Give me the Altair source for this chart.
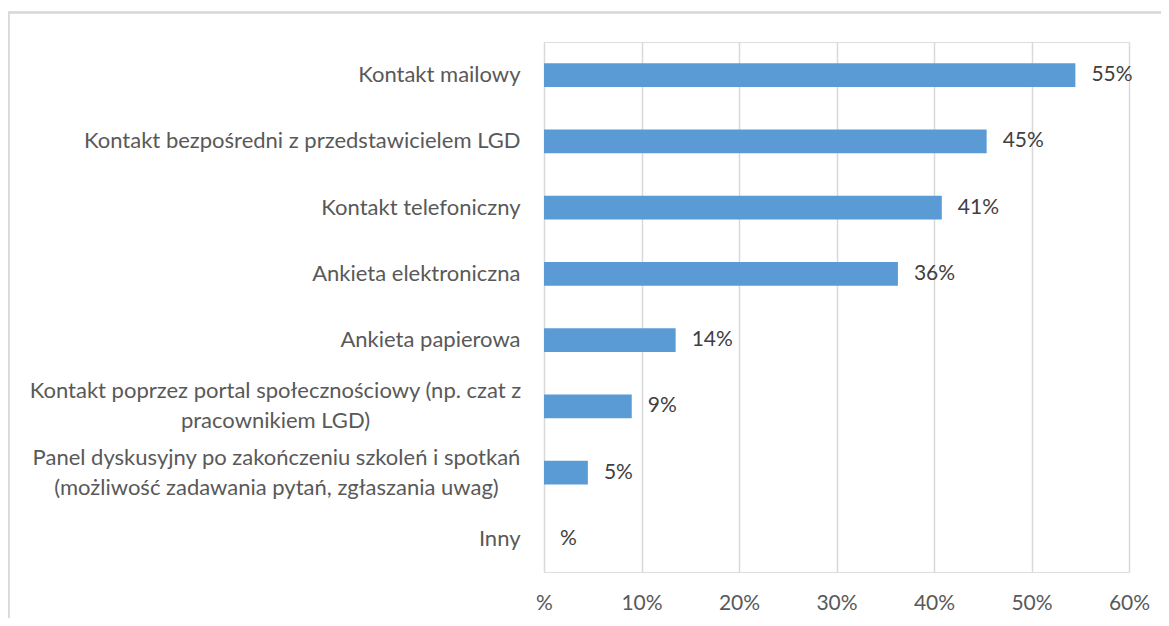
import altair as alt
import pandas as pd

categories = [
    "Kontakt mailowy",
    "Kontakt bezpośredni z przedstawicielem LGD",
    "Kontakt telefoniczny",
    "Ankieta elektroniczna",
    "Ankieta papierowa",
    "Kontakt poprzez portal społecznościowy (np. czat z|pracownikiem LGD)",
    "Panel dyskusyjny po zakończeniu szkoleń i spotkań|(możliwość zadawania pytań, zgłaszania uwag)",
    "Inny",
]
values = [54.5, 45.4, 40.8, 36.3, 13.5, 9.0, 4.5, 0.0]
value_labels = ["55%", "45%", "41%", "36%", "14%", "9%", "5%", "%"]
tick_values = [0, 10, 20, 30, 40, 50, 60]

df = pd.DataFrame({"cat": categories, "val": values, "lab": value_labels})

FONT = "Lato"
FS_CAT = 22
FS_NUM = 21
MULTI = "indexof(datum.value, '|') >= 0"

x = alt.X(
    "val:Q",
    scale=alt.Scale(domain=[0, 60], nice=False, zero=True),
    axis=alt.Axis(
        values=tick_values,
        labelExpr="datum.value == 0 ? '%' : format(datum.value, 'd') + '%'",
        title=None,
        domain=False,
        ticks=False,
        grid=True,
        gridColor="#d9d9d9",
        gridWidth=1.5,
        labelFont=FONT,
        labelFontSize=FS_NUM,
        labelColor="#595959",
        labelPadding=20,
        labelFlush=False,
        labelOverlap=False,
    ),
)
y = alt.Y(
    "cat:N",
    sort=categories,
    scale=alt.Scale(paddingInner=0.645, paddingOuter=0.3225),
    axis=alt.Axis(
        title=None,
        domain=False,
        ticks=False,
        labelExpr="split(datum.label, '|')",
        labelFont=FONT,
        labelFontSize=FS_CAT,
        labelColor="#595959",
        labelPadding={
            "condition": [
                {"test": "indexof(datum.value, 'Kontakt poprzez') == 0", "value": 269},
                {"test": "indexof(datum.value, 'Panel') == 0", "value": 268},
            ],
            "value": 24,
        },
        labelLineHeight=30,
        labelLimit=600,
        labelAlign={"condition": {"test": MULTI, "value": "center"}, "value": "right"},
        labelOffset={"condition": {"test": MULTI, "value": -15}, "value": 0},
        labelBaseline="middle",
    ),
)

bars = alt.Chart(df).mark_bar(color="#5b9bd5").encode(x=x, y=y)
texts = alt.Chart(df).mark_text(
    align="left", baseline="middle", dx=16, font=FONT, fontSize=FS_NUM, color="#404040"
).encode(x=alt.X("val:Q"), y=alt.Y("cat:N", sort=categories), text="lab:N")

border_top = alt.Chart(df).mark_rule(color="#d9d9d9", strokeWidth=1.5).encode(
    x=alt.value(-535.5), x2=alt.value(640), y=alt.value(-29.5)
)
border_left = alt.Chart(df).mark_rule(color="#d9d9d9", strokeWidth=1.5).encode(
    x=alt.value(-535.5), y=alt.value(-29.5), y2=alt.value(600)
)

chart = (
    alt.layer(border_top, border_left, bars, texts)
    .properties(
        width=585,
        height=530,
        autosize=alt.AutoSizeParams(type="none"),
        padding={"left": 536, "top": 34, "right": 32, "bottom": 46},
    )
    .configure_view(stroke=None)
    .configure(background="white")
)

chart.save("out.html", embed_options={"renderer": "svg", "actions": False})
